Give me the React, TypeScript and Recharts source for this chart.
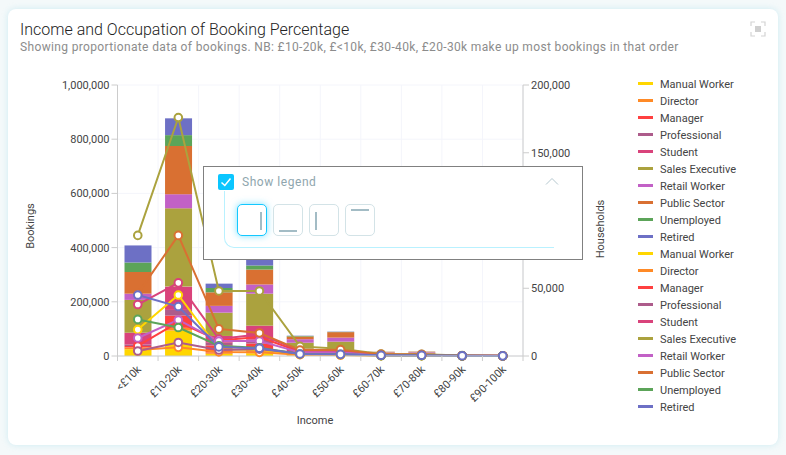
import { Bar, CartesianGrid, ComposedChart, Legend, Line, XAxis, YAxis } from 'recharts'

const incomes = ['<£10k', '£10-20k', '£20-30k', '£30-40k', '£40-50k', '£50-60k', '£60-70k', '£70-80k', '£80-90k', '£90-100k']
const occupations = ['Manual Worker', 'Director', 'Manager', 'Professional', 'Student', 'Sales Executive', 'Retail Worker', 'Public Sector', 'Unemployed', 'Retired']
const colors = ['#ffd600', '#ff8a26', '#ff4040', '#ad5c8b', '#d9437b', '#aba23e', '#c261c6', '#d97032', '#5ca459', '#6d70c5']

// bookings, left axis
const manualBookings = [25000, 94000, 8000, 10000, 2000, 1000, 500, 500, 100, 50]
const directorBookings = [7000, 10000, 6000, 6000, 2000, 1000, 500, 500, 100, 50]
const managerBookings = [5000, 45000, 25000, 30000, 10000, 7000, 4000, 4000, 200, 100]
const professionalBookings = [5000, 21000, 10000, 14000, 4000, 4000, 1000, 1000, 100, 50]
const studentBookings = [44000, 86000, 25000, 52000, 9000, 7000, 3500, 3500, 200, 100]
const salesBookings = [121000, 289000, 86000, 118000, 22000, 33000, 2500, 3000, 200, 100]
const retailBookings = [23000, 52000, 25000, 34000, 13000, 15000, 1500, 2000, 100, 50]
const publicBookings = [80000, 178000, 50000, 55000, 10000, 20000, 2000, 1500, 100, 50]
const unemployedBookings = [35000, 40000, 16000, 15000, 2000, 1000, 300, 300, 50, 20]
const retiredBookings = [63000, 62000, 16000, 22000, 1000, 1000, 200, 200, 50, 20]

// households, right axis
const manualHouseholds = [19500, 45000, 5000, 4400, 1200, 800, 300, 300, 100, 50]
const directorHouseholds = [4400, 6400, 3000, 2700, 1000, 700, 200, 200, 100, 50]
const managerHouseholds = [7400, 25000, 11500, 14000, 3200, 3000, 800, 800, 200, 100]
const professionalHouseholds = [3700, 10000, 4400, 5000, 2000, 1500, 400, 400, 100, 50]
const studentHouseholds = [38000, 54000, 12500, 16000, 4000, 3700, 1000, 1000, 200, 100]
const salesHouseholds = [89000, 176000, 48000, 48000, 7100, 5400, 1500, 1200, 300, 100]
const retailHouseholds = [13300, 26600, 11000, 11000, 2700, 2500, 600, 600, 150, 80]
const publicHouseholds = [46000, 89000, 20000, 17000, 4400, 4700, 1200, 1100, 200, 100]
const unemployedHouseholds = [27000, 21000, 7600, 6000, 1500, 1200, 300, 300, 100, 50]
const retiredHouseholds = [45000, 36500, 6700, 5700, 1500, 1200, 500, 500, 200, 100]

const bookingSeries = [manualBookings, directorBookings, managerBookings, professionalBookings, studentBookings, salesBookings, retailBookings, publicBookings, unemployedBookings, retiredBookings]
const householdSeries = [manualHouseholds, directorHouseholds, managerHouseholds, professionalHouseholds, studentHouseholds, salesHouseholds, retailHouseholds, publicHouseholds, unemployedHouseholds, retiredHouseholds]

const bookingTicks = [0, 200000, 400000, 600000, 800000, 1000000]
const householdTicks = [0, 50000, 100000, 150000, 200000]

const data = incomes.map((income, i) => {
  const row: any = { income }
  occupations.forEach((_, s) => {
    row['b' + s] = bookingSeries[s][i]
    row['h' + s] = householdSeries[s][i]
  })
  return row
})

const plotLeft = 117.5
const plotWidth = 405.5
const bandWidth = plotWidth / incomes.length
const font = 'Roboto, sans-serif'
const textColor = '#444444'

// ticks sit on the category boundaries, the labels in the middle of the band
function IncomeTick({ x, y, payload, index }: any) {
  return (
    <g>
      <line x1={x - bandWidth / 2} x2={x - bandWidth / 2} y1={y - 8} y2={y - 3} stroke="#cccccc" />
      {index === incomes.length - 1 && (
        <line x1={x + bandWidth / 2} x2={x + bandWidth / 2} y1={y - 8} y2={y - 3} stroke="#cccccc" />
      )}
      <text x={x + 4} y={y + 6} textAnchor="end" fontSize={11} fill={textColor} fontFamily={font} transform={`rotate(-45 ${x + 4} ${y + 6})`}>
        {payload.value}
      </text>
    </g>
  )
}

function AxisTitle({ x, y, angle, value }: any) {
  return (
    <text x={x} y={y} textAnchor="middle" dominantBaseline="central" fontSize={11} fill={textColor} fontFamily={font} transform={angle ? `rotate(${angle} ${x} ${y})` : undefined}>
      {value}
    </text>
  )
}

function SideLegend() {
  const rows = [...occupations, ...occupations]
  return (
    <div style={{ fontFamily: font, fontSize: 11, color: textColor }}>
      {rows.map((name, i) => (
        <div key={i} style={{ position: 'relative', height: 17, lineHeight: '17px', paddingLeft: 22, whiteSpace: 'nowrap' }}>
          <span style={{ position: 'absolute', left: 0, top: 6, width: 15, height: 3, background: colors[i % 10] }} />
          {name}
        </div>
      ))}
    </div>
  )
}

function LayoutButton({ left, selected, bar }: any) {
  return (
    <div
      style={{
        position: 'absolute',
        left,
        top: 37,
        width: 30,
        height: 32,
        boxSizing: 'border-box',
        borderRadius: 5,
        background: '#fff',
        border: selected ? '1px solid #13c8ff' : '1px solid #d3e3e7',
        boxShadow: selected ? '0 0 7px rgba(19,200,255,0.55)' : 'none',
      }}
    >
      <div style={{ position: 'absolute', background: '#a3bcc5', ...bar }} />
    </div>
  )
}

function LegendPanel() {
  return (
    <div style={{ position: 'absolute', left: 203, top: 166, width: 380, height: 94, boxSizing: 'border-box', border: '1px solid #808080', background: '#fff', fontFamily: font }}>
      <div style={{ position: 'absolute', left: 20, top: 24, width: 330, height: 57, boxSizing: 'border-box', borderLeft: '1px solid #b9f1ff', borderBottom: '1px solid #b9f1ff', borderBottomLeftRadius: 10 }} />
      <div style={{ position: 'absolute', left: 14, top: 7, width: 16, height: 16, borderRadius: 2, background: '#0bc6ff' }}>
        <svg width={16} height={16}>
          <path d="M3.5 8.5 L6.8 11.5 L12.5 4.5" fill="none" stroke="#fff" strokeWidth={1.5} />
        </svg>
      </div>
      <div style={{ position: 'absolute', left: 38, top: 7, fontSize: 12, lineHeight: '16px', letterSpacing: 0.55, color: '#8fa6ae' }}>Show legend</div>
      <svg style={{ position: 'absolute', left: 341, top: 10 }} width={14} height={9}>
        <path d="M1 7.5 L7 1.5 L13 7.5" fill="none" stroke="#b5c8cf" strokeWidth={1} />
      </svg>
      <LayoutButton left={33} selected bar={{ left: 22, top: 7, width: 2, height: 18 }} />
      <LayoutButton left={69} bar={{ left: 5, top: 25, width: 18, height: 2 }} />
      <LayoutButton left={105} bar={{ left: 5, top: 7, width: 2, height: 18 }} />
      <LayoutButton left={141} bar={{ left: 5, top: 4, width: 18, height: 2 }} />
    </div>
  )
}

export default function App() {
  return (
    <div style={{ position: 'fixed', left: 0, top: 0, width: 786, height: 455, overflow: 'hidden', background: '#f4f9fa' }}>
      <div style={{ position: 'absolute', left: 8, top: 9, width: 770, height: 436, borderRadius: 8, background: '#fff', boxShadow: '0 0 6px rgba(190,230,240,0.7)' }} />
      <div style={{ position: 'absolute', left: 20, top: 20, fontFamily: font, fontSize: 16, fontWeight: 300, lineHeight: '20px', color: '#222', whiteSpace: 'nowrap' }}>
        Income and Occupation of Booking Percentage
      </div>
      <div style={{ position: 'absolute', left: 20, top: 40, fontFamily: font, fontSize: 12, lineHeight: '15px', letterSpacing: 0.35, color: '#8c8c8c', whiteSpace: 'nowrap' }}>
        Showing proportionate data of bookings. NB: £10-20k, £&lt;10k, £30-40k, £20-30k make up most bookings in that order
      </div>
      <svg style={{ position: 'absolute', left: 750, top: 21 }} width={16} height={16}>
        <path d="M1 5 V1 H5 M11 1 H15 V5 M15 11 V15 H11 M5 15 H1 V11" fill="none" stroke="#d4d4d4" strokeWidth={1.2} />
        <rect x={5} y={5} width={6} height={6} fill="#cfcfcf" />
      </svg>

      <div style={{ position: 'absolute', left: 0, top: 0 }}>
        <ComposedChart
          width={786}
          height={455}
          data={data}
          margin={{ top: 85, right: 73, bottom: 34, left: 57.5 }}
          style={{ fontFamily: font }}
        >
          <CartesianGrid
            stroke="#f4f5fb"
            yAxisId="bookings"
            verticalCoordinatesGenerator={() => incomes.map((_, i) => plotLeft + bandWidth * (i + 1))}
          />
          <XAxis
            dataKey="income"
            height={65}
            interval={0}
            axisLine={{ stroke: '#cccccc' }}
            tickLine={false}
            tick={<IncomeTick />}
            label={() => <AxisTitle x={315} y={420} value="Income" />}
          />
          <YAxis
            yAxisId="bookings"
            width={60}
            domain={[0, 1000000]}
            ticks={bookingTicks}
            tickFormatter={(v: number) => v.toLocaleString('en-GB')}
            tick={{ fontSize: 11, fill: textColor }}
            axisLine={{ stroke: '#cccccc' }}
            tickLine={{ stroke: '#cccccc' }}
            label={() => <AxisTitle x={30} y={226} angle={-90} value="Bookings" />}
          />
          <YAxis
            yAxisId="households"
            orientation="right"
            width={60}
            domain={[0, 200000]}
            ticks={householdTicks}
            tickFormatter={(v: number) => v.toLocaleString('en-GB')}
            tick={{ fontSize: 11, fill: textColor }}
            axisLine={{ stroke: '#cccccc' }}
            tickLine={{ stroke: '#cccccc' }}
            label={() => <AxisTitle x={600.5} y={229} angle={-90} value="Households" />}
          />
          <Legend content={<SideLegend />} layout="vertical" align="right" verticalAlign="top" wrapperStyle={{ left: 638, top: 76, width: 130 }} />
          {occupations.map((name, s) => (
            <Bar key={name} yAxisId="bookings" dataKey={'b' + s} name={name} stackId="bookings" fill={colors[s]} barSize={27} isAnimationActive={false} />
          ))}
          {occupations.map((name, s) => (
            <Line
              key={name}
              yAxisId="households"
              dataKey={'h' + s}
              name={name}
              type="linear"
              stroke={colors[s]}
              strokeWidth={2}
              dot={{ r: 3.8, fill: '#fff', stroke: colors[s], strokeWidth: 2 }}
              isAnimationActive={false}
            />
          ))}
        </ComposedChart>
      </div>

      <LegendPanel />
    </div>
  )
}
